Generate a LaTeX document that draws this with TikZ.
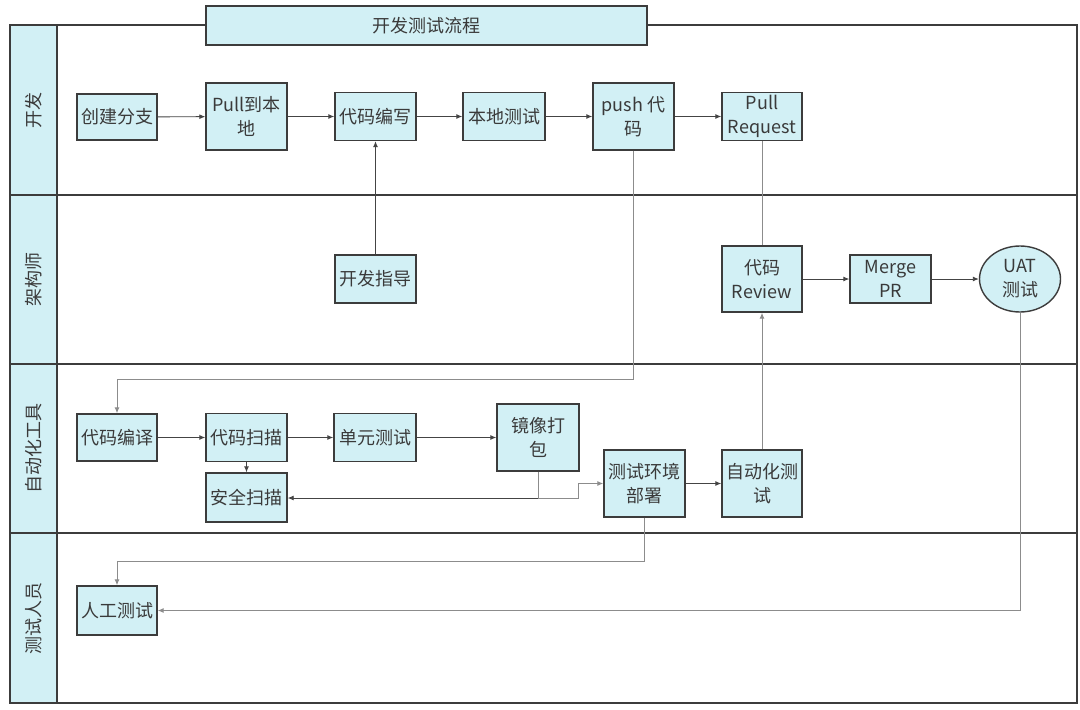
\documentclass[tikz,border=0pt]{standalone}
\usepackage{fontspec}
\setmainfont{Noto Sans CJK SC}
\usetikzlibrary{arrows.meta,shapes.geometric}
\definecolor{boxfill}{HTML}{D2F0F5}
\definecolor{boxline}{HTML}{3C3C3C}
\definecolor{txt}{HTML}{3A3A3A}
\definecolor{darkconn}{HTML}{444444}
\definecolor{lightconn}{HTML}{8C8C8C}
\tikzset{
  x=1pt, y=-1pt,
  proc/.style={draw=boxline, fill=boxfill, line width=1.4pt, inner sep=0pt, align=center,
    text=txt, font=\fontsize{18}{24}\selectfont},
  oval/.style={proc, ellipse},
  lanelbl/.style={rotate=90, text=txt, font=\fontsize{18}{24}\selectfont},
  frame/.style={draw=boxline, line width=1.4pt},
  conn/.style={draw=darkconn, line width=0.9pt, -{Latex[length=6pt,width=5pt]}},
  lconn/.style={draw=lightconn, line width=1pt, -{Latex[length=6pt,width=5pt]}},
  lline/.style={draw=lightconn, line width=1pt},
}
\begin{document}
\begin{tikzpicture}
\useasboundingbox (0,0) rectangle (1080,710);
\fill[white] (0,0) rectangle (1080,710);
% swimlane frame
\fill[boxfill] (10,25) rectangle (57,703);
\draw[frame] (10,25) rectangle (1077,703);
\draw[frame] (57,25) -- (57,703);
\draw[frame] (10,195) -- (1077,195);
\draw[frame] (10,364) -- (1077,364);
\draw[frame] (10,533) -- (1077,533);
% title
\node[proc, minimum width=441pt, minimum height=39pt] (title) at (426.5,25.5) {开发测试流程};
% lane labels
\node[lanelbl] (l1) at (33.5,110) {开发};
\node[lanelbl] (l2) at (33.5,279.5) {架构师};
\node[lanelbl] (l3) at (33.5,448.5) {自动化工具};
\node[lanelbl] (l4) at (33.5,618) {测试人员};
% lane 1
\node[proc, minimum width=80pt, minimum height=46pt] (cb) at (117,117) {创建分支};
\node[proc, minimum width=81pt, minimum height=67pt] (pull) at (246.5,116.5) {Pull到本\\地};
\node[proc, minimum width=81pt, minimum height=48pt] (code) at (375.5,116.5) {代码编写};
\node[proc, minimum width=82pt, minimum height=48pt] (lt) at (504,116.5) {本地测试};
\node[proc, minimum width=81pt, minimum height=67pt] (push) at (633.5,116.5) {push 代\\码};
\node[proc, minimum width=80pt, minimum height=48pt] (pr) at (762,116.5) {Pull\\Request};
% lane 2
\node[proc, minimum width=81pt, minimum height=48pt] (guide) at (375.5,279) {开发指导};
\node[proc, minimum width=80pt, minimum height=66pt] (review) at (762,279) {代码\\Review};
\node[proc, minimum width=81pt, minimum height=48pt] (merge) at (890.5,279) {Merge\\PR};
\node[oval, minimum width=81pt, minimum height=66pt] (uat) at (1020,279) {UAT\\测试};
% lane 3
\node[proc, minimum width=80pt, minimum height=47pt] (compile) at (117,437.5) {代码编译};
\node[proc, minimum width=81pt, minimum height=48pt] (scan) at (246.5,437.5) {代码扫描};
\node[proc, minimum width=81pt, minimum height=49pt] (sec) at (246.5,497.5) {安全扫描};
\node[proc, minimum width=82pt, minimum height=48pt] (unit) at (375,437.5) {单元测试};
\node[proc, minimum width=82pt, minimum height=67pt] (image) at (538,437.5) {镜像打\\包};
\node[proc, minimum width=81pt, minimum height=67pt] (deploy) at (644.5,483.5) {测试环境\\部署};
\node[proc, minimum width=80pt, minimum height=67pt] (auto) at (762,483.5) {自动化测\\试};
% lane 4
\node[proc, minimum width=80pt, minimum height=49pt] (manual) at (117,610.5) {人工测试};
% connectors lane 1
\draw[conn] (cb) -- (pull);
\draw[conn] (pull) -- (code);
\draw[conn] (code) -- (lt);
\draw[conn] (lt) -- (push);
\draw[conn] (push) -- (pr);
\draw[conn] (guide) -- (code);
% push -> compile
\coordinate (b1) at (633.5,379);
\draw[lconn] (push.south) -- (b1) -| (compile.north);
% PR -> review
\draw[lline] (pr) -- (review);
\draw[conn] (review) -- (merge);
\draw[conn] (merge) -- (uat);
\draw[lconn] (auto) -- (review);
% lane 3
\draw[conn] (compile) -- (scan);
\draw[conn] (scan) -- (unit);
\draw[conn] (unit) -- (image.west |- unit);
\draw[conn] (scan) -- (sec);
\coordinate (j) at (538,498);
\coordinate (j2) at (578,498);
\draw[lline] (image.south) -- (j);
\draw[conn] (j) -- (sec.east |- j);
\draw[lconn] (j) -- (j2) |- (deploy.west);
\draw[conn] (deploy) -- (auto);
% deploy -> manual
\coordinate (b2) at (644.5,561);
\draw[lconn] (deploy.south) -- (b2) -| (manual.north);
% uat -> manual
\draw[lconn] (uat.south) |- (manual.east);
\end{tikzpicture}
\end{document}
